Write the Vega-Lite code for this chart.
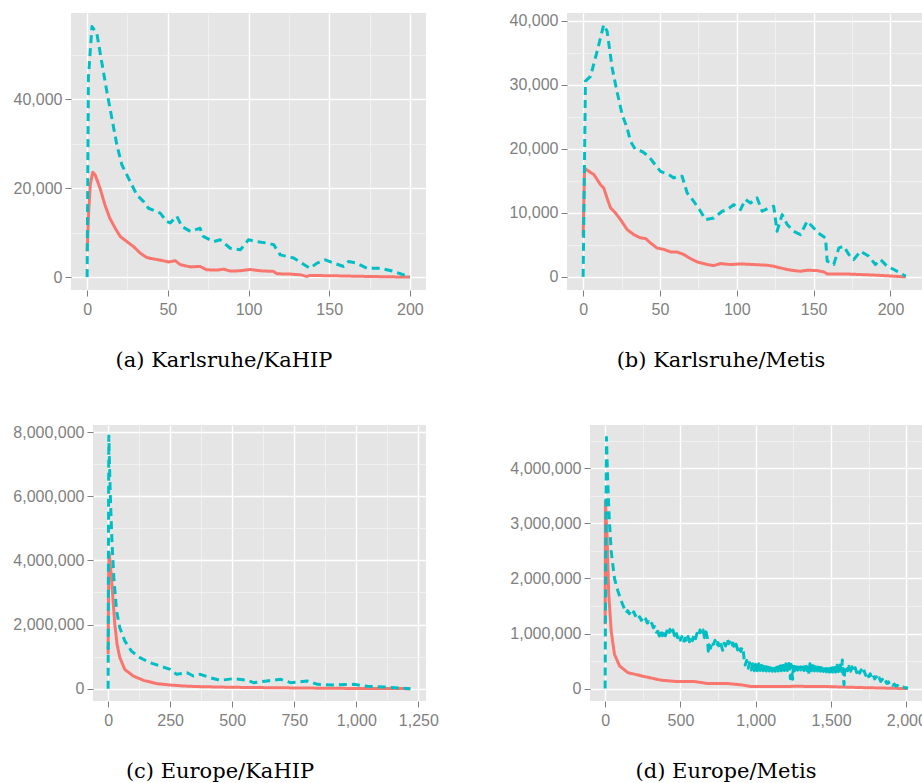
{
  "$schema": "https://vega.github.io/schema/vega-lite/v6.json",
  "padding": {"left": 0, "top": 12, "right": 0, "bottom": 0},
  "background": "white",
  "datasets": {
    "a": [
      {"x":0,"y":5800,"s":"A"},{"x":1,"y":15000,"s":"A"},{"x":2,"y":21000,"s":"A"},{"x":3.5,"y":23600,"s":"A"},{"x":5,"y":23000,"s":"A"},{"x":8,"y":20000,"s":"A"},{"x":11,"y":16300,"s":"A"},{"x":14,"y":13300,"s":"A"},{"x":17.4,"y":11000,"s":"A"},{"x":20.5,"y":9150,"s":"A"},{"x":24.6,"y":8000,"s":"A"},{"x":28.7,"y":6900,"s":"A"},{"x":32.9,"y":5400,"s":"A"},{"x":37,"y":4400,"s":"A"},{"x":41,"y":4100,"s":"A"},{"x":47,"y":3700,"s":"A"},{"x":50.5,"y":3400,"s":"A"},{"x":54.6,"y":3700,"s":"A"},{"x":57.7,"y":2800,"s":"A"},{"x":64,"y":2300,"s":"A"},{"x":70,"y":2400,"s":"A"},{"x":74,"y":1650,"s":"A"},{"x":80.5,"y":1580,"s":"A"},{"x":84.6,"y":1800,"s":"A"},{"x":88.7,"y":1350,"s":"A"},{"x":95,"y":1430,"s":"A"},{"x":101,"y":1730,"s":"A"},{"x":107,"y":1430,"s":"A"},{"x":115.6,"y":1280,"s":"A"},{"x":117.7,"y":750,"s":"A"},{"x":126,"y":680,"s":"A"},{"x":132,"y":525,"s":"A"},{"x":136,"y":150,"s":"A"},{"x":138,"y":375,"s":"A"},{"x":153,"y":300,"s":"A"},{"x":173.5,"y":150,"s":"A"},{"x":200,"y":0,"s":"A"},
      {"x":0,"y":0,"s":"B"},{"x":0.8,"y":45000,"s":"B"},{"x":3,"y":56400,"s":"B"},{"x":6,"y":54900,"s":"B"},{"x":9,"y":48500,"s":"B"},{"x":12.2,"y":41800,"s":"B"},{"x":15.3,"y":35800,"s":"B"},{"x":18.4,"y":29800,"s":"B"},{"x":21.5,"y":25300,"s":"B"},{"x":25.6,"y":22300,"s":"B"},{"x":30.8,"y":18500,"s":"B"},{"x":35,"y":17000,"s":"B"},{"x":38,"y":15500,"s":"B"},{"x":45.3,"y":14400,"s":"B"},{"x":49.4,"y":12500,"s":"B"},{"x":51.5,"y":12200,"s":"B"},{"x":55.6,"y":13700,"s":"B"},{"x":58.7,"y":11400,"s":"B"},{"x":64,"y":10300,"s":"B"},{"x":70,"y":11000,"s":"B"},{"x":72,"y":9150,"s":"B"},{"x":78.4,"y":8000,"s":"B"},{"x":82.5,"y":8400,"s":"B"},{"x":88.7,"y":6500,"s":"B"},{"x":95,"y":6150,"s":"B"},{"x":100,"y":8400,"s":"B"},{"x":105,"y":8000,"s":"B"},{"x":111.6,"y":7650,"s":"B"},{"x":115.6,"y":7300,"s":"B"},{"x":119.7,"y":5000,"s":"B"},{"x":128,"y":4300,"s":"B"},{"x":136.3,"y":2400,"s":"B"},{"x":138,"y":2000,"s":"B"},{"x":142.5,"y":3150,"s":"B"},{"x":147.7,"y":3900,"s":"B"},{"x":152.8,"y":3150,"s":"B"},{"x":159,"y":2400,"s":"B"},{"x":162,"y":3500,"s":"B"},{"x":167,"y":3150,"s":"B"},{"x":173.5,"y":2000,"s":"B"},{"x":181.8,"y":2000,"s":"B"},{"x":190,"y":1300,"s":"B"},{"x":200,"y":0,"s":"B"}
    ],
    "b": [
      {"x":0,"y":6350,"s":"A"},{"x":0.9,"y":17000,"s":"A"},{"x":3.7,"y":16500,"s":"A"},{"x":7,"y":16000,"s":"A"},{"x":11.3,"y":14400,"s":"A"},{"x":13.4,"y":13900,"s":"A"},{"x":15.6,"y":12300,"s":"A"},{"x":17.8,"y":10800,"s":"A"},{"x":21,"y":10000,"s":"A"},{"x":24.3,"y":8960,"s":"A"},{"x":28.6,"y":7400,"s":"A"},{"x":33,"y":6600,"s":"A"},{"x":37.3,"y":6100,"s":"A"},{"x":40.6,"y":6000,"s":"A"},{"x":43.8,"y":5300,"s":"A"},{"x":48.2,"y":4500,"s":"A"},{"x":52.5,"y":4300,"s":"A"},{"x":56.9,"y":3900,"s":"A"},{"x":61,"y":3900,"s":"A"},{"x":65.5,"y":3500,"s":"A"},{"x":69.8,"y":2860,"s":"A"},{"x":74.2,"y":2340,"s":"A"},{"x":80.7,"y":1930,"s":"A"},{"x":85,"y":1770,"s":"A"},{"x":89.4,"y":2080,"s":"A"},{"x":95.9,"y":1930,"s":"A"},{"x":102.4,"y":2030,"s":"A"},{"x":111,"y":1930,"s":"A"},{"x":119.7,"y":1820,"s":"A"},{"x":124,"y":1670,"s":"A"},{"x":128.4,"y":1400,"s":"A"},{"x":132.8,"y":1150,"s":"A"},{"x":137,"y":990,"s":"A"},{"x":141.4,"y":880,"s":"A"},{"x":145.8,"y":1040,"s":"A"},{"x":152,"y":990,"s":"A"},{"x":156.6,"y":780,"s":"A"},{"x":158.8,"y":470,"s":"A"},{"x":169.6,"y":470,"s":"A"},{"x":180.5,"y":365,"s":"A"},{"x":191.3,"y":260,"s":"A"},{"x":210,"y":0,"s":"A"},
      {"x":0,"y":0,"s":"B"},{"x":1.5,"y":30600,"s":"B"},{"x":4.8,"y":31350,"s":"B"},{"x":9.1,"y":35260,"s":"B"},{"x":13.4,"y":39400,"s":"B"},{"x":15.6,"y":38400,"s":"B"},{"x":18.9,"y":32650,"s":"B"},{"x":22,"y":29000,"s":"B"},{"x":25.4,"y":25360,"s":"B"},{"x":28.6,"y":23280,"s":"B"},{"x":30.8,"y":21200,"s":"B"},{"x":34,"y":19900,"s":"B"},{"x":38.4,"y":19600,"s":"B"},{"x":42.7,"y":18850,"s":"B"},{"x":46,"y":17800,"s":"B"},{"x":50.3,"y":16500,"s":"B"},{"x":55.7,"y":16000,"s":"B"},{"x":59,"y":15470,"s":"B"},{"x":61.2,"y":15730,"s":"B"},{"x":64.4,"y":15730,"s":"B"},{"x":67.7,"y":13120,"s":"B"},{"x":72,"y":11800,"s":"B"},{"x":76.4,"y":10260,"s":"B"},{"x":79.6,"y":8960,"s":"B"},{"x":85,"y":9200,"s":"B"},{"x":90.5,"y":10260,"s":"B"},{"x":93.7,"y":10520,"s":"B"},{"x":98,"y":11300,"s":"B"},{"x":102.4,"y":10520,"s":"B"},{"x":105.6,"y":12080,"s":"B"},{"x":108.9,"y":11560,"s":"B"},{"x":113.2,"y":12340,"s":"B"},{"x":116.5,"y":10260,"s":"B"},{"x":120.8,"y":10780,"s":"B"},{"x":124,"y":11040,"s":"B"},{"x":126.2,"y":7130,"s":"B"},{"x":129.5,"y":9740,"s":"B"},{"x":132.8,"y":8180,"s":"B"},{"x":137,"y":7130,"s":"B"},{"x":141.4,"y":6610,"s":"B"},{"x":145.8,"y":8700,"s":"B"},{"x":150,"y":7650,"s":"B"},{"x":154.4,"y":6610,"s":"B"},{"x":157.7,"y":6090,"s":"B"},{"x":158.8,"y":2450,"s":"B"},{"x":163.1,"y":1930,"s":"B"},{"x":166.4,"y":4530,"s":"B"},{"x":169.6,"y":4790,"s":"B"},{"x":172.9,"y":3490,"s":"B"},{"x":176.1,"y":2710,"s":"B"},{"x":180.5,"y":4010,"s":"B"},{"x":185.9,"y":3230,"s":"B"},{"x":190.2,"y":1930,"s":"B"},{"x":193.5,"y":2710,"s":"B"},{"x":197.8,"y":1670,"s":"B"},{"x":202.2,"y":1150,"s":"B"},{"x":210,"y":100,"s":"B"}
    ],
    "c": [
      {"x":0,"y":1070000,"s":"A"},{"x":2,"y":3500000,"s":"A"},{"x":4,"y":4240000,"s":"A"},{"x":13.5,"y":3460000,"s":"A"},{"x":20,"y":2730000,"s":"A"},{"x":27,"y":2000000,"s":"A"},{"x":36,"y":1380000,"s":"A"},{"x":47,"y":970000,"s":"A"},{"x":67,"y":600000,"s":"A"},{"x":101,"y":395000,"s":"A"},{"x":142,"y":260000,"s":"A"},{"x":196,"y":156000,"s":"A"},{"x":250,"y":114000,"s":"A"},{"x":303,"y":83000,"s":"A"},{"x":371,"y":62000,"s":"A"},{"x":506,"y":42000,"s":"A"},{"x":640,"y":31000,"s":"A"},{"x":775,"y":21000,"s":"A"},{"x":910,"y":10000,"s":"A"},{"x":1218,"y":0,"s":"A"},
      {"x":0,"y":0,"s":"B"},{"x":1.5,"y":5000000,"s":"B"},{"x":2.7,"y":7880000,"s":"B"},{"x":6.7,"y":6580000,"s":"B"},{"x":10.8,"y":5540000,"s":"B"},{"x":16,"y":4500000,"s":"B"},{"x":23,"y":3460000,"s":"B"},{"x":34,"y":2420000,"s":"B"},{"x":47,"y":1900000,"s":"B"},{"x":67,"y":1490000,"s":"B"},{"x":94,"y":1170000,"s":"B"},{"x":128,"y":966000,"s":"B"},{"x":169,"y":810000,"s":"B"},{"x":209,"y":706000,"s":"B"},{"x":250,"y":603000,"s":"B"},{"x":276,"y":447000,"s":"B"},{"x":317,"y":499000,"s":"B"},{"x":344,"y":395000,"s":"B"},{"x":371,"y":447000,"s":"B"},{"x":411,"y":343000,"s":"B"},{"x":452,"y":260000,"s":"B"},{"x":506,"y":312000,"s":"B"},{"x":560,"y":260000,"s":"B"},{"x":587,"y":187000,"s":"B"},{"x":640,"y":239000,"s":"B"},{"x":695,"y":291000,"s":"B"},{"x":735,"y":187000,"s":"B"},{"x":802,"y":239000,"s":"B"},{"x":843,"y":135000,"s":"B"},{"x":910,"y":114000,"s":"B"},{"x":991,"y":135000,"s":"B"},{"x":1045,"y":73000,"s":"B"},{"x":1112,"y":52000,"s":"B"},{"x":1218,"y":0,"s":"B"}
    ],
    "d": [
      {"x":0,"y":1170000,"s":"A"},{"x":2,"y":3400000,"s":"A"},{"x":13,"y":2740000,"s":"A"},{"x":24,"y":1710000,"s":"A"},{"x":40,"y":1050000,"s":"A"},{"x":62,"y":623000,"s":"A"},{"x":96,"y":411000,"s":"A"},{"x":151,"y":290000,"s":"A"},{"x":262,"y":218000,"s":"A"},{"x":374,"y":151000,"s":"A"},{"x":485,"y":127000,"s":"A"},{"x":596,"y":127000,"s":"A"},{"x":685,"y":91000,"s":"A"},{"x":819,"y":91000,"s":"A"},{"x":908,"y":67000,"s":"A"},{"x":974,"y":36000,"s":"A"},{"x":1152,"y":36000,"s":"A"},{"x":1264,"y":42000,"s":"A"},{"x":1486,"y":36000,"s":"A"},{"x":1709,"y":18000,"s":"A"},{"x":2010,"y":0,"s":"A"},
      {"x":0,"y":0,"s":"B"},{"x":4,"y":2500000,"s":"B"},{"x":9,"y":4560000,"s":"B"},{"x":13,"y":4130000,"s":"B"},{"x":18,"y":3710000,"s":"B"},{"x":27,"y":3100000,"s":"B"},{"x":40,"y":2500000,"s":"B"},{"x":62,"y":2000000,"s":"B"},{"x":85,"y":1770000,"s":"B"},{"x":107,"y":1590000,"s":"B"},
      {"x":130,"y":1435000,"s":"B"},{"x":140,"y":1375000,"s":"B"},{"x":150,"y":1415000,"s":"B"},{"x":160,"y":1360000,"s":"B"},{"x":170,"y":1405000,"s":"B"},{"x":180,"y":1350000,"s":"B"},{"x":190,"y":1395000,"s":"B"},{"x":200,"y":1325000,"s":"B"},{"x":210,"y":1355000,"s":"B"},{"x":220,"y":1280000,"s":"B"},{"x":230,"y":1305000,"s":"B"},{"x":240,"y":1240000,"s":"B"},{"x":250,"y":1275000,"s":"B"},{"x":260,"y":1220000,"s":"B"},{"x":270,"y":1265000,"s":"B"},{"x":280,"y":1190000,"s":"B"},{"x":290,"y":1215000,"s":"B"},{"x":300,"y":1150000,"s":"B"},{"x":310,"y":1185000,"s":"B"},{"x":320,"y":1105000,"s":"B"},{"x":330,"y":1125000,"s":"B"},{"x":340,"y":1025000,"s":"B"},{"x":350,"y":1040000,"s":"B"},{"x":360,"y":955000,"s":"B"},{"x":370,"y":1045000,"s":"B"},{"x":380,"y":960000,"s":"B"},{"x":390,"y":1055000,"s":"B"},{"x":400,"y":960000,"s":"B"},{"x":410,"y":1045000,"s":"B"},{"x":420,"y":970000,"s":"B"},{"x":430,"y":1075000,"s":"B"},{"x":440,"y":980000,"s":"B"},{"x":450,"y":1065000,"s":"B"},{"x":460,"y":960000,"s":"B"},{"x":470,"y":1035000,"s":"B"},{"x":480,"y":925000,"s":"B"},{"x":490,"y":995000,"s":"B"},{"x":500,"y":880000,"s":"B"},{"x":510,"y":945000,"s":"B"},{"x":520,"y":840000,"s":"B"},{"x":530,"y":915000,"s":"B"},{"x":540,"y":840000,"s":"B"},{"x":550,"y":945000,"s":"B"},{"x":560,"y":850000,"s":"B"},{"x":570,"y":935000,"s":"B"},{"x":580,"y":870000,"s":"B"},{"x":590,"y":985000,"s":"B"},{"x":600,"y":905000,"s":"B"},{"x":610,"y":1005000,"s":"B"},{"x":620,"y":945000,"s":"B"},{"x":630,"y":1065000,"s":"B"},{"x":640,"y":990000,"s":"B"},{"x":650,"y":1065000,"s":"B"},{"x":660,"y":925000,"s":"B"},{"x":670,"y":1030000,"s":"B"},{"x":680,"y":905000,"s":"B"},{"x":685,"y":680000,"s":"B"},{"x":690,"y":795000,"s":"B"},{"x":700,"y":735000,"s":"B"},{"x":710,"y":860000,"s":"B"},{"x":720,"y":805000,"s":"B"},{"x":730,"y":875000,"s":"B"},{"x":740,"y":765000,"s":"B"},{"x":750,"y":835000,"s":"B"},{"x":760,"y":725000,"s":"B"},{"x":770,"y":800000,"s":"B"},{"x":780,"y":695000,"s":"B"},{"x":790,"y":825000,"s":"B"},{"x":800,"y":775000,"s":"B"},{"x":810,"y":905000,"s":"B"},{"x":820,"y":815000,"s":"B"},{"x":830,"y":845000,"s":"B"},{"x":840,"y":745000,"s":"B"},{"x":850,"y":825000,"s":"B"},{"x":860,"y":725000,"s":"B"},{"x":870,"y":805000,"s":"B"},{"x":880,"y":700000,"s":"B"},{"x":890,"y":775000,"s":"B"},{"x":900,"y":675000,"s":"B"},{"x":910,"y":755000,"s":"B"},{"x":918,"y":660000,"s":"B"},{"x":922,"y":560000,"s":"B"},{"x":930,"y":430000,"s":"B"},{"x":940,"y":510000,"s":"B"},{"x":950,"y":370000,"s":"B"},{"x":960,"y":470000,"s":"B"},{"x":970,"y":340000,"s":"B"},{"x":980,"y":450000,"s":"B"},{"x":990,"y":325000,"s":"B"},{"x":1000,"y":440000,"s":"B"},{"x":1010,"y":325000,"s":"B"},{"x":1020,"y":450000,"s":"B"},{"x":1030,"y":330000,"s":"B"},{"x":1040,"y":450000,"s":"B"},{"x":1050,"y":325000,"s":"B"},{"x":1060,"y":440000,"s":"B"},{"x":1070,"y":320000,"s":"B"},{"x":1080,"y":440000,"s":"B"},{"x":1090,"y":320000,"s":"B"},{"x":1100,"y":440000,"s":"B"},{"x":1110,"y":315000,"s":"B"},{"x":1120,"y":435000,"s":"B"},{"x":1130,"y":315000,"s":"B"},{"x":1140,"y":440000,"s":"B"},{"x":1150,"y":320000,"s":"B"},{"x":1160,"y":445000,"s":"B"},{"x":1170,"y":325000,"s":"B"},{"x":1180,"y":445000,"s":"B"},{"x":1190,"y":330000,"s":"B"},{"x":1200,"y":450000,"s":"B"},{"x":1210,"y":330000,"s":"B"},{"x":1220,"y":455000,"s":"B"},{"x":1230,"y":180000,"s":"B"},{"x":1235,"y":440000,"s":"B"},{"x":1245,"y":170000,"s":"B"},{"x":1250,"y":450000,"s":"B"},{"x":1260,"y":330000,"s":"B"},{"x":1270,"y":455000,"s":"B"},{"x":1280,"y":335000,"s":"B"},{"x":1290,"y":460000,"s":"B"},{"x":1300,"y":340000,"s":"B"},{"x":1310,"y":455000,"s":"B"},{"x":1320,"y":330000,"s":"B"},{"x":1330,"y":450000,"s":"B"},{"x":1340,"y":330000,"s":"B"},{"x":1350,"y":440000,"s":"B"},{"x":1353,"y":250000,"s":"B"},{"x":1360,"y":450000,"s":"B"},{"x":1370,"y":325000,"s":"B"},{"x":1380,"y":445000,"s":"B"},{"x":1390,"y":320000,"s":"B"},{"x":1400,"y":440000,"s":"B"},{"x":1410,"y":320000,"s":"B"},{"x":1420,"y":435000,"s":"B"},{"x":1430,"y":315000,"s":"B"},{"x":1440,"y":435000,"s":"B"},{"x":1450,"y":310000,"s":"B"},{"x":1460,"y":430000,"s":"B"},{"x":1470,"y":305000,"s":"B"},{"x":1480,"y":420000,"s":"B"},{"x":1490,"y":300000,"s":"B"},{"x":1500,"y":420000,"s":"B"},{"x":1510,"y":300000,"s":"B"},{"x":1520,"y":420000,"s":"B"},{"x":1530,"y":300000,"s":"B"},{"x":1540,"y":425000,"s":"B"},{"x":1550,"y":310000,"s":"B"},{"x":1560,"y":430000,"s":"B"},{"x":1570,"y":310000,"s":"B"},{"x":1575,"y":520000,"s":"B"},{"x":1580,"y":300000,"s":"B"},{"x":1586,"y":70000,"s":"B"},{"x":1592,"y":390000,"s":"B"},{"x":1600,"y":415000,"s":"B"},{"x":1610,"y":325000,"s":"B"},{"x":1620,"y":405000,"s":"B"},{"x":1630,"y":315000,"s":"B"},{"x":1640,"y":395000,"s":"B"},{"x":1650,"y":305000,"s":"B"},{"x":1660,"y":380000,"s":"B"},{"x":1670,"y":290000,"s":"B"},{"x":1680,"y":365000,"s":"B"},{"x":1690,"y":280000,"s":"B"},{"x":1700,"y":340000,"s":"B"},{"x":1710,"y":260000,"s":"B"},{"x":1720,"y":320000,"s":"B"},{"x":1730,"y":240000,"s":"B"},{"x":1740,"y":295000,"s":"B"},{"x":1750,"y":215000,"s":"B"},{"x":1760,"y":270000,"s":"B"},{"x":1770,"y":195000,"s":"B"},{"x":1780,"y":245000,"s":"B"},{"x":1790,"y":175000,"s":"B"},{"x":1800,"y":215000,"s":"B"},{"x":1810,"y":150000,"s":"B"},{"x":1820,"y":195000,"s":"B"},{"x":1830,"y":130000,"s":"B"},{"x":1840,"y":170000,"s":"B"},{"x":1850,"y":110000,"s":"B"},{"x":1860,"y":150000,"s":"B"},{"x":1870,"y":95000,"s":"B"},{"x":1880,"y":125000,"s":"B"},{"x":1890,"y":75000,"s":"B"},{"x":1900,"y":100000,"s":"B"},{"x":1910,"y":60000,"s":"B"},{"x":1920,"y":80000,"s":"B"},{"x":1930,"y":45000,"s":"B"},{"x":1940,"y":60000,"s":"B"},{"x":1950,"y":35000,"s":"B"},{"x":1960,"y":45000,"s":"B"},{"x":1970,"y":25000,"s":"B"},{"x":1980,"y":30000,"s":"B"},{"x":1990,"y":15000,"s":"B"},{"x":2000,"y":15000,"s":"B"},{"x":2010,"y":5000,"s":"B"}
    ]
  },
  "spacing": 53,
  "vconcat": [
    {
      "spacing": 0,
      "hconcat": [
        {"width": 1, "height": 10, "data": {"values": []}, "mark": "point", "view": {"fill": null, "stroke": null}},
        {
          "width": 355, "height": 277,
          "data": {"name": "a"},
          "title": {"text": "(a) Karlsruhe/KaHIP", "dx": -24.5},
          "mark": {"type": "line", "strokeWidth": 3, "strokeCap": "butt", "strokeJoin": "round"},
          "encoding": {
            "x": {"field": "x", "type": "quantitative", "scale": {"domain": [-10, 210], "nice": false, "zero": false},
              "axis": {"title": null, "values": [0,25,50,75,100,125,150,175,200],
                "labelExpr": "datum.value % 50 === 0 ? format(datum.value, ',') : ''",
                "gridColor": {"condition": {"test": "datum.value % 50 === 0", "value": "#FFFFFF"}, "value": "#F2F2F2"},
                "gridWidth": {"condition": {"test": "datum.value % 50 === 0", "value": 1.4}, "value": 0.8},
                "tickOpacity": {"condition": {"test": "datum.value % 50 === 0", "value": 1}, "value": 0}}},
            "y": {"field": "y", "type": "quantitative", "scale": {"domain": [-2900, 59450], "nice": false, "zero": false},
              "axis": {"title": null, "values": [0,10000,20000,30000,40000,50000],
                "minExtent": 70, "maxExtent": 70,
                "labelExpr": "datum.value % 20000 === 0 ? format(datum.value, ',') : ''",
                "gridColor": {"condition": {"test": "datum.value % 20000 === 0", "value": "#FFFFFF"}, "value": "#F2F2F2"},
                "gridWidth": {"condition": {"test": "datum.value % 20000 === 0", "value": 1.4}, "value": 0.8},
                "tickOpacity": {"condition": {"test": "datum.value % 20000 === 0", "value": 1}, "value": 0}}},
            "color": {"field": "s", "type": "nominal", "scale": {"domain": ["A", "B"], "range": ["#F8766D", "#00BFC4"]}, "legend": null},
            "strokeDash": {"field": "s", "type": "nominal", "scale": {"domain": ["A", "B"], "range": [[1, 0], [8, 5]]}, "legend": null}
          }
        },
        {
          "width": 355, "height": 277,
          "data": {"name": "b"},
          "title": {"text": "(b) Karlsruhe/Metis", "dx": -23.5},
          "mark": {"type": "line", "strokeWidth": 3, "strokeCap": "butt", "strokeJoin": "round"},
          "encoding": {
            "x": {"field": "x", "type": "quantitative", "scale": {"domain": [-10.5, 220.5], "nice": false, "zero": false},
              "axis": {"title": null, "values": [0,25,50,75,100,125,150,175,200],
                "labelExpr": "datum.value % 50 === 0 ? format(datum.value, ',') : ''",
                "gridColor": {"condition": {"test": "datum.value % 50 === 0", "value": "#FFFFFF"}, "value": "#F2F2F2"},
                "gridWidth": {"condition": {"test": "datum.value % 50 === 0", "value": 1.4}, "value": 0.8},
                "tickOpacity": {"condition": {"test": "datum.value % 50 === 0", "value": 1}, "value": 0}}},
            "y": {"field": "y", "type": "quantitative", "scale": {"domain": [-2050, 41250], "nice": false, "zero": false},
              "axis": {"title": null, "values": [0,5000,10000,15000,20000,25000,30000,35000,40000],
                "minExtent": 141, "maxExtent": 141,
                "labelExpr": "datum.value % 10000 === 0 ? format(datum.value, ',') : ''",
                "gridColor": {"condition": {"test": "datum.value % 10000 === 0", "value": "#FFFFFF"}, "value": "#F2F2F2"},
                "gridWidth": {"condition": {"test": "datum.value % 10000 === 0", "value": 1.4}, "value": 0.8},
                "tickOpacity": {"condition": {"test": "datum.value % 10000 === 0", "value": 1}, "value": 0}}},
            "color": {"field": "s", "type": "nominal", "scale": {"domain": ["A", "B"], "range": ["#F8766D", "#00BFC4"]}, "legend": null},
            "strokeDash": {"field": "s", "type": "nominal", "scale": {"domain": ["A", "B"], "range": [[1, 0], [8, 5]]}, "legend": null}
          }
        }
      ]
    },
    {
      "spacing": 0,
      "hconcat": [
        {"width": 1, "height": 10, "data": {"values": []}, "mark": "point", "view": {"fill": null, "stroke": null}},
        {
          "width": 333, "height": 276,
          "data": {"name": "c"},
          "title": {"text": "(c) Europe/KaHIP", "dx": -39.5},
          "mark": {"type": "line", "strokeWidth": 3, "strokeCap": "butt", "strokeJoin": "round"},
          "encoding": {
            "x": {"field": "x", "type": "quantitative", "scale": {"domain": [-61, 1281], "nice": false, "zero": false},
              "axis": {"title": null, "values": [0,125,250,375,500,625,750,875,1000,1125,1250],
                "labelExpr": "datum.value % 250 === 0 ? format(datum.value, ',') : ''",
                "gridColor": {"condition": {"test": "datum.value % 250 === 0", "value": "#FFFFFF"}, "value": "#F2F2F2"},
                "gridWidth": {"condition": {"test": "datum.value % 250 === 0", "value": 1.4}, "value": 0.8},
                "tickOpacity": {"condition": {"test": "datum.value % 250 === 0", "value": 1}, "value": 0}}},
            "y": {"field": "y", "type": "quantitative", "scale": {"domain": [-385000, 8220000], "nice": false, "zero": false},
              "axis": {"title": null, "values": [0,1000000,2000000,3000000,4000000,5000000,6000000,7000000,8000000],
                "minExtent": 92, "maxExtent": 92,
                "labelExpr": "datum.value % 2000000 === 0 ? format(datum.value, ',') : ''",
                "gridColor": {"condition": {"test": "datum.value % 2000000 === 0", "value": "#FFFFFF"}, "value": "#F2F2F2"},
                "gridWidth": {"condition": {"test": "datum.value % 2000000 === 0", "value": 1.4}, "value": 0.8},
                "tickOpacity": {"condition": {"test": "datum.value % 2000000 === 0", "value": 1}, "value": 0}}},
            "color": {"field": "s", "type": "nominal", "scale": {"domain": ["A", "B"], "range": ["#F8766D", "#00BFC4"]}, "legend": null},
            "strokeDash": {"field": "s", "type": "nominal", "scale": {"domain": ["A", "B"], "range": [[1, 0], [8, 5]]}, "legend": null}
          }
        },
        {
          "width": 333, "height": 276,
          "data": {"name": "d"},
          "title": {"text": "(d) Europe/Metis", "dx": -30.5},
          "mark": {"type": "line", "strokeWidth": 3, "strokeCap": "butt", "strokeJoin": "round"},
          "encoding": {
            "x": {"field": "x", "type": "quantitative", "scale": {"domain": [-100.5, 2110.5], "nice": false, "zero": false},
              "axis": {"title": null, "values": [0,250,500,750,1000,1250,1500,1750,2000],
                "labelExpr": "datum.value % 500 === 0 ? format(datum.value, ',') : ''",
                "gridColor": {"condition": {"test": "datum.value % 500 === 0", "value": "#FFFFFF"}, "value": "#F2F2F2"},
                "gridWidth": {"condition": {"test": "datum.value % 500 === 0", "value": 1.4}, "value": 0.8},
                "tickOpacity": {"condition": {"test": "datum.value % 500 === 0", "value": 1}, "value": 0}}},
            "y": {"field": "y", "type": "quantitative", "scale": {"domain": [-225000, 4786000], "nice": false, "zero": false},
              "axis": {"title": null, "values": [0,500000,1000000,1500000,2000000,2500000,3000000,3500000,4000000,4500000],
                "minExtent": 151, "maxExtent": 151,
                "labelExpr": "datum.value % 1000000 === 0 ? format(datum.value, ',') : ''",
                "gridColor": {"condition": {"test": "datum.value % 1000000 === 0", "value": "#FFFFFF"}, "value": "#F2F2F2"},
                "gridWidth": {"condition": {"test": "datum.value % 1000000 === 0", "value": 1.4}, "value": 0.8},
                "tickOpacity": {"condition": {"test": "datum.value % 1000000 === 0", "value": 1}, "value": 0}}},
            "color": {"field": "s", "type": "nominal", "scale": {"domain": ["A", "B"], "range": ["#F8766D", "#00BFC4"]}, "legend": null},
            "strokeDash": {"field": "s", "type": "nominal", "scale": {"domain": ["A", "B"], "range": [[1, 0], [8, 5]]}, "legend": null}
          }
        }
      ]
    }
  ],
  "config": {
    "view": {"fill": "#E5E5E5", "stroke": null},
    "axis": {
      "domain": false,
      "labelFont": "Liberation Sans",
      "labelFontSize": 16,
      "labelColor": "#7F7F7F",
      "tickColor": "#7F7F7F",
      "tickSize": 6,
      "tickWidth": 1,
      "grid": true
    },
    "axisX": {"labelPadding": 5, "minExtent": 25, "maxExtent": 25, "labelFlush": false},
    "axisY": {"labelPadding": 3},
    "title": {
      "orient": "bottom",
      "anchor": "middle",
      "frame": "group",
      "offset": 33,
      "font": "DejaVu Serif",
      "fontSize": 21,
      "fontWeight": "normal",
      "color": "#000000"
    }
  }
}
